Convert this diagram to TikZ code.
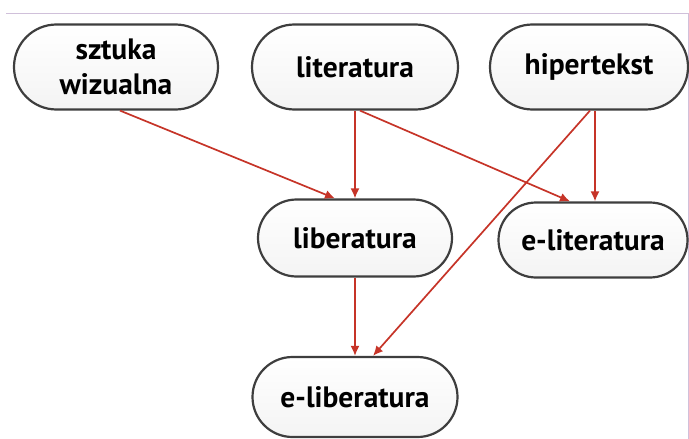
\documentclass[tikz,border=0pt]{standalone}
\usepackage{fontspec}
\setmainfont{PT Sans}
\usetikzlibrary{shapes.misc}
\usetikzlibrary{arrows.meta}
\definecolor{edgered}{RGB}{198,52,40}
\definecolor{framelil}{RGB}{208,192,218}
\definecolor{borderg}{RGB}{62,62,62}
\tikzset{
    pill/.style = {rounded rectangle, line width=2.2pt, draw=borderg, align=center, top color=white, bottom color=gray!9, font=\bfseries\fontsize{29.5}{35}\selectfont, inner sep=0pt},
    edger/.style = {-{Latex[length=10pt,width=9pt]}, line width=1.7pt, edgered},
    frameline/.style = {line width=0.9pt, framelil}
}
\begin{document}
\begin{tikzpicture}[x=1pt,y=-1pt]
\useasboundingbox (0,0) rectangle (689,439);
%
\coordinate (ftl) at (6,13);
\coordinate (ftr) at (688,13);
\coordinate (fbr) at (688,439);
\draw[frameline] (ftl) -- (ftr) -- (fbr);
%
\node[pill, minimum width=204pt, minimum height=85pt] at (116,67) (szt) {sztuka\\wizualna};
\node[pill, minimum width=206pt, minimum height=85pt] at (355,67) (lit) {literatura};
\node[pill, minimum width=198pt, minimum height=85pt] at (589,67) (hip) {hipertekst};
\node[pill, minimum width=194pt, minimum height=77pt] at (355,238) (lib) {liberatura};
\node[pill, minimum width=189pt, minimum height=75pt] at (593,240) (elit) {e-literatura};
\node[pill, minimum width=205pt, minimum height=80pt] at (355,397) (elib) {e-liberatura};
%
\draw[edger] ([xshift=4pt]szt.south) -- ([xshift=-20pt]lib.north);
\draw[edger] (lit.south) -- (lib.north);
\draw[edger] ([xshift=5pt]lit.south) -- ([xshift=-23pt]elit.north);
\draw[edger] ([xshift=6pt]hip.south) -- ([xshift=2pt]elit.north);
\draw[edger] ([xshift=1pt]hip.south) -- ([xshift=18pt]elib.north);
\draw[edger] (lib.south) -- (elib.north);
\end{tikzpicture}
\end{document}
